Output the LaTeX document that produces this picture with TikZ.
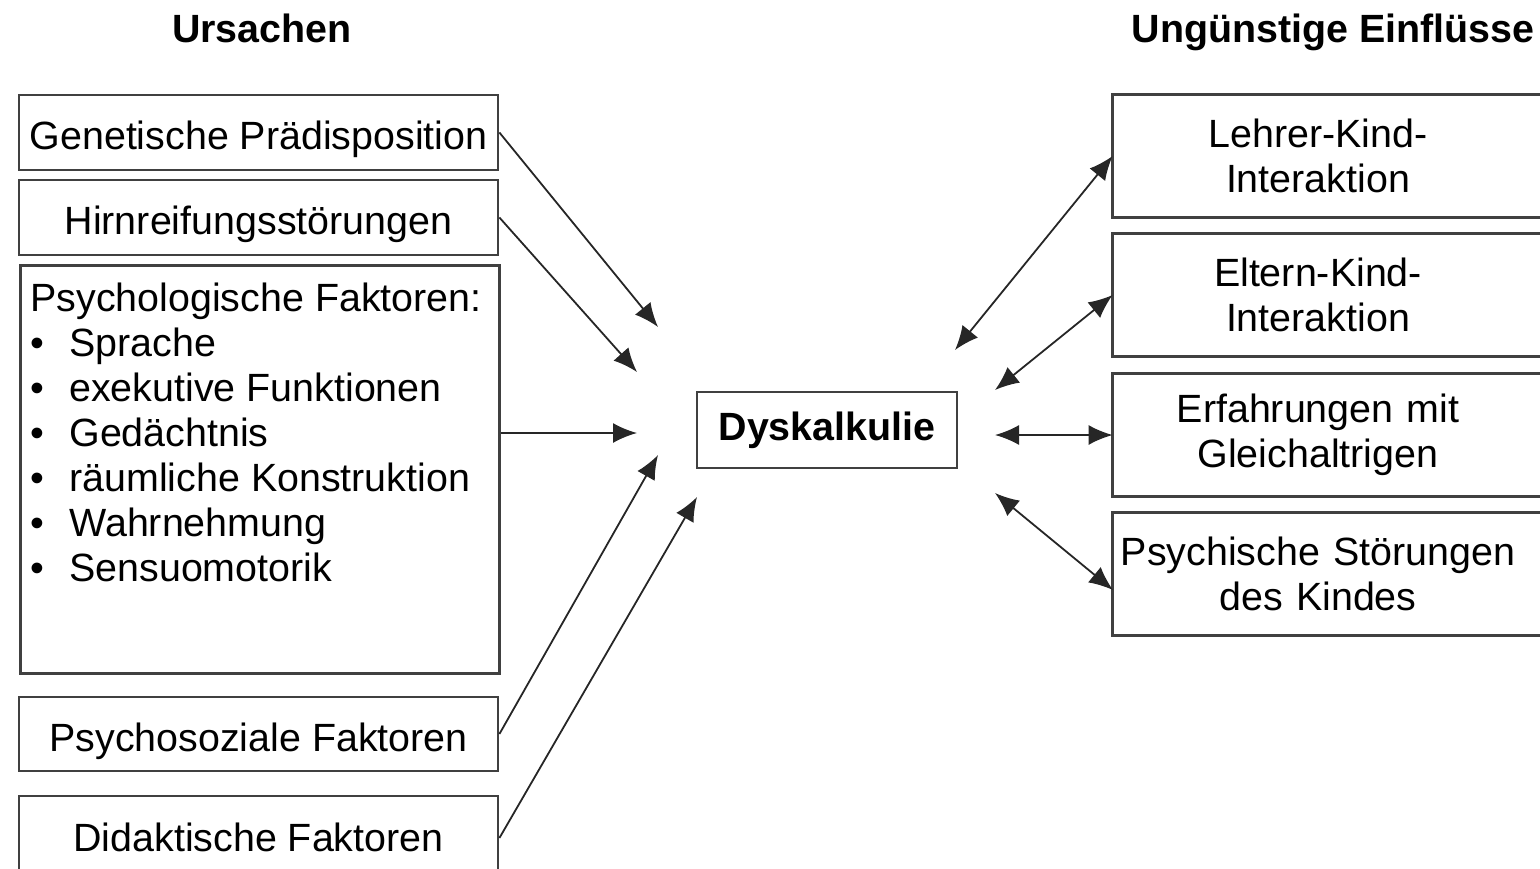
\documentclass[tikz,border=0pt]{standalone}
\usepackage{fontspec}
\setmainfont{Liberation Sans}
\usetikzlibrary{arrows.meta}

\begin{document}
\begin{tikzpicture}[x=0.5pt,y=-0.5pt,font=\fontsize{19.7}{22.5}\selectfont,
  box/.style={draw=black!75,line width=1.4pt,minimum width=239.5pt,inner sep=0pt,text height=17pt,text depth=0pt},
  rbox/.style={text width=205pt,align=center,minimum height=61pt,inner sep=0pt},
  frame/.style={draw=black!75,line width=1.4pt},
  head/.style={font=\fontsize{19.7}{22.5}\selectfont\bfseries},
  arr/.style={draw=black!85,line width=0.9pt,-{Latex[length=12pt,width=10pt]}},
  darr/.style={arr,{Latex[length=12pt,width=10pt]}-{Latex[length=12pt,width=10pt]}}]
%page
\useasboundingbox (0,0) rectangle (1540,868);
\clip (0,0) rectangle (1540,868);

%headings
\node[head,anchor=base] (ursachen) at (262,42) {Ursachen};
\node[head,anchor=base] (einfluesse) at (1333,42) {Ungünstige Einflüsse};

%causes
\node[box,minimum height=37.5pt] (gen) at (258.5,132.5) {Genetische Prädisposition};
\node[box,minimum height=37.5pt] (hirn) at (258.5,217.5) {Hirnreifungsstörungen};
\node[box,anchor=north west,minimum height=204pt] (psy) at (19,264) {};
\node[anchor=base west,align=left,inner sep=0pt] (psytext) at (30,581.7)
  {Psychologische Faktoren:\\
   \makebox[19.5pt][l]{\textbullet}Sprache\\
   \makebox[19.5pt][l]{\textbullet}exekutive Funktionen\\
   \makebox[19.5pt][l]{\textbullet}Gedächtnis\\
   \makebox[19.5pt][l]{\textbullet}räumliche Konstruktion\\
   \makebox[19.5pt][l]{\textbullet}Wahrnehmung\\
   \makebox[19.5pt][l]{\textbullet}Sensuomotorik};
\node[box,minimum height=37pt] (soz) at (258.5,734) {Psychosoziale Faktoren};
\node[box,minimum height=38pt] (dida) at (258.5,834) {Didaktische Faktoren};

%center
\node[box,head,minimum width=130pt,minimum height=38pt,text height=10pt] (dys) at (827,430) {Dyskalkulie};

%influences
\node[rbox] (lehrer) at (1318,156) {Lehrer-Kind-\\Interaktion};
\node[rbox] (eltern) at (1318,295) {Eltern-Kind-\\Interaktion};
\node[rbox] (peer) at (1318,435) {Erfahrungen mit\\Gleichaltrigen};
\node[rbox] (stoer) at (1318,574) {Psychische Störungen\\des Kindes};
\foreach \n in {lehrer,eltern,peer,stoer}
  \draw[frame] (\n.south west) rectangle ([xshift=20pt]\n.north east);

%arrow ends
\coordinate (t1) at (658,327);
\coordinate (t2) at (637,372);
\coordinate (t3) at (637,433);
\coordinate (t4) at (658,455);
\coordinate (t5) at (697,497);
\coordinate (u1) at (955,350);
\coordinate (u2) at (995,390);
\coordinate (u3) at (995,435);
\coordinate (u4) at (995,493);
\coordinate (s4) at (1113,590);

\draw[arr] (gen.east) -- (t1);
\draw[arr] (hirn.east) -- (t2);
\draw[arr] (psy.east |- t3) -- (t3);
\draw[arr] (soz.east) -- (t4);
\draw[arr] ([yshift=-2pt]dida.east) -- (t5);

\draw[darr] (u1) -- (lehrer.west);
\draw[darr] (u2) -- (eltern.west);
\draw[darr] (u3) -- (peer.west);
\draw[darr] (u4) -- (s4);
\end{tikzpicture}
\end{document}
